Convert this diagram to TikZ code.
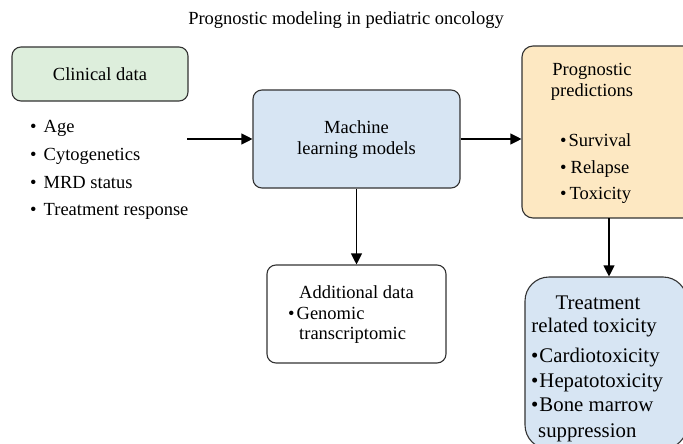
\documentclass[tikz,border=0pt]{standalone}
\usepackage{fontspec}
\setmainfont{Liberation Serif}
\usetikzlibrary{arrows.meta}
\definecolor{boxgreen}{HTML}{DDEEDC}
\definecolor{boxblue}{HTML}{D7E5F3}
\definecolor{boxorange}{HTML}{FDE8C2}
\definecolor{edge}{HTML}{333333}
\tikzset{
  box/.style={draw=edge, line width=1.1pt, inner sep=0pt},
  txt/.style={inner sep=0pt, anchor=base, font=\fontsize{18.5}{22}\selectfont},
  txtw/.style={inner sep=0pt, anchor=base west, font=\fontsize{18.5}{22}\selectfont},
  bigw/.style={inner sep=0pt, anchor=base west, font=\fontsize{20.8}{24}\selectfont},
  big/.style={inner sep=0pt, anchor=base, font=\fontsize{20.8}{24}\selectfont},
  arr/.style={draw=black, line width=1.1pt, -{Triangle[length=11pt,width=11pt]}}
}
\begin{document}
\begin{tikzpicture}[x=1pt,y=-1pt]
\useasboundingbox (0,0) rectangle (683,444);
\clip (0,0) rectangle (683,444);
\fill[white] (0,0) rectangle (683,444);
% title
\node[txt] (title) at (346,25) {Prognostic modeling in pediatric oncology};
% boxes
\node[box, fill=boxgreen, rounded corners=9pt, minimum width=176pt, minimum height=54pt] (clin) at (100,74) {};
\node[box, fill=boxblue, rounded corners=9pt, minimum width=207pt, minimum height=98pt] (ml) at (356.5,139) {};
\node[box, fill=boxorange, rounded corners=11pt, minimum width=172pt, minimum height=172pt] (prog) at (608,132) {};
\node[box, fill=white, rounded corners=9pt, minimum width=179pt, minimum height=98pt] (add) at (356.5,314) {};
\node[box, fill=boxblue, rounded corners=24pt, minimum width=162pt, minimum height=172pt] (treat) at (606,363) {};
% clinical text
\node[txt] (clint) at (100,81) {Clinical data};
\node[txtw] (b1) at (30,132) {\textbullet\hspace{7pt}Age};
\node[txtw] (b2) at (30,160) {\textbullet\hspace{7pt}Cytogenetics};
\node[txtw] (b3) at (30,188) {\textbullet\hspace{7pt}MRD status};
\node[txtw] (b4) at (30,215.5) {\textbullet\hspace{7pt}Treatment response};
% ML text
\node[txt] (mlt1) at (356.5,133) {Machine};
\node[txt] (mlt2) at (356.5,154) {learning models};
% prognostic text
\node[txt] (pt1) at (592,75) {Prognostic};
\node[txt] (pt2) at (592,96) {predictions};
\node[txtw] (p1) at (560,146) {\textbullet\hspace{2pt}Survival};
\node[txtw] (p2) at (560,173) {\textbullet\hspace{4pt}Relapse};
\node[txtw] (p3) at (560,199) {\textbullet\hspace{3pt}Toxicity};
% additional text
\node[txtw] (at1) at (299,298) {Additional data};
\node[txtw] (at2) at (288,319) {\textbullet\hspace{2pt}Genomic};
\node[txtw] (at3) at (299,339) {transcriptomic};
% treatment text
\node[big] (tt1) at (598,309) {Treatment};
\node[big] (tt2) at (594,332) {related toxicity};
\node[bigw] (t1) at (531,362) {\textbullet\hspace{1pt}Cardiotoxicity};
\node[bigw] (t2) at (531,387) {\textbullet\hspace{1pt}Hepatotoxicity};
\node[bigw] (t3) at (531,411) {\textbullet\hspace{1pt}Bone marrow};
\node[bigw] (t4) at (538,437) {suppression};
% connectors
\coordinate (cs) at (187,139);
\draw[arr] (cs) -- (cs -| ml.west);
\draw[arr] (ml.east |- cs) -- (cs -| prog.west);
\draw[arr] (ml.south) -- (add.north);
\coordinate (ps) at (609,218);
\draw[arr] (ps) -- (ps |- treat.north);
\end{tikzpicture}
\end{document}
